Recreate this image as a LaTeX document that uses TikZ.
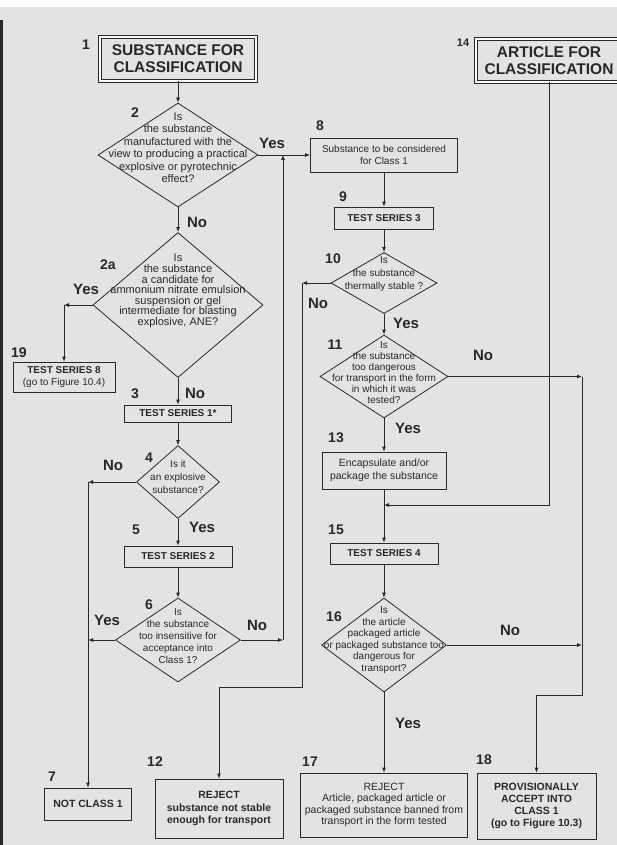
\documentclass[tikz,border=0pt]{standalone}
\usepackage{fontspec}
\setmainfont{Liberation Sans}
\usetikzlibrary{arrows.meta,shapes.geometric,positioning}

\definecolor{paper}{RGB}{227,228,226}
\definecolor{ink}{RGB}{40,40,40}

\begin{document}
\begin{tikzpicture}[x=1pt,y=-1pt,line width=0.8pt,color=ink,
		box/.style={draw,rectangle,inner sep=0pt,align=center},
		dbox/.style={box,double=white!80!paper,double distance=2pt,font=\bfseries\fontsize{15.5}{17}\selectfont},
		tbox/.style={box,font=\bfseries\fontsize{10}{12}\selectfont},
		dia/.style={draw,diamond,inner sep=0pt},
		dtxt/.style={align=center,inner sep=0pt},
		num/.style={font=\bfseries\fontsize{14}{14}\selectfont},
		yn/.style={font=\bfseries\fontsize{15}{15}\selectfont},
		arr/.style={-{Latex[length=5pt,width=4pt]}}]
	\useasboundingbox (0,0) rectangle (617,845);
	\fill[paper] (0,0) rectangle (617,845);
	\fill[white] (0,0) rectangle (617,7);
	\fill[ink] (0,20) rectangle (3,845);

	% start boxes
	\node[dbox,minimum width=156pt,minimum height=44pt] (sub) at (178,59) {SUBSTANCE FOR\\CLASSIFICATION};
	\node[dbox,minimum width=146pt,minimum height=43pt] (art) at (549,60.5) {ARTICLE FOR\\CLASSIFICATION};

	% left column
	\node[dia,minimum width=160pt,minimum height=104pt] (d2) at (178,155) {};
	\node[dtxt,font=\fontsize{11}{12.5}\selectfont] (t2) at ([yshift=7pt]d2.center) {Is\\the substance\\manufactured with the\\view to producing a practical\\explosive or pyrotechnic\\effect?};
	\node[dia,minimum width=170pt,minimum height=145pt] (d2a) at (178,305) {};
	\node[dtxt,font=\fontsize{11}{10.6}\selectfont] (t2a) at ([yshift=14pt]d2a.center) {Is\\the substance\\a candidate for\\ammonium nitrate emulsion\\suspension or gel\\intermediate for blasting\\explosive, ANE?};
	\node[box,minimum width=102pt,minimum height=30pt,font=\fontsize{10}{12}\selectfont] (ts8) at (64,377) {\textbf{TEST SERIES 8}\\(go to Figure 10.4)};
	\node[tbox,minimum width=107pt,minimum height=17pt] (ts1) at (178,413.5) {TEST SERIES 1*};
	\node[dia,minimum width=83pt,minimum height=73pt] (d4) at (178,482) {};
	\node[dtxt,font=\fontsize{10}{13}\selectfont] (t4) at ([yshift=5pt]d4.center) {Is it\\an explosive\\substance?};
	\node[tbox,minimum width=108pt,minimum height=21pt] (ts2) at (178,556.5) {TEST SERIES 2};
	\node[dia,minimum width=125pt,minimum height=84pt] (d6) at (178,640) {};
	\node[dtxt,font=\fontsize{10}{12}\selectfont] (t6) at ([yshift=4pt]d6.center) {Is\\the substance\\too insensitive for\\acceptance into\\Class 1?};
	\node[tbox,minimum width=87pt,minimum height=32pt,font=\bfseries\fontsize{10.5}{12}\selectfont] (nc1) at (88,804) {NOT CLASS 1};
	\node[tbox,minimum width=128pt,minimum height=59pt,font=\bfseries\fontsize{10.5}{12.5}\selectfont] (rj1) at (219,808.5) {REJECT\\substance not stable\\enough for transport};

	% right column
	\node[box,minimum width=147pt,minimum height=34pt,font=\fontsize{10}{12}\selectfont] (cons) at (384,155) {Substance to be considered\\for Class 1};
	\node[tbox,minimum width=99pt,minimum height=22pt] (ts3) at (384,218) {TEST SERIES 3};
	\node[dia,minimum width=106pt,minimum height=61pt] (d10) at (384,283) {};
	\node[dtxt,font=\fontsize{10}{13}\selectfont] (t10) at ([yshift=9pt]d10.center) {Is\\the substance\\thermally stable ?};
	\node[dia,minimum width=128pt,minimum height=83pt] (d11) at (384,376.5) {};
	\node[dtxt,font=\fontsize{10}{11}\selectfont] (t11) at ([yshift=4pt]d11.center) {Is\\the substance\\too dangerous\\for transport in the form\\in which it was\\tested?};
	\node[box,minimum width=124pt,minimum height=37pt,font=\fontsize{10.5}{12.5}\selectfont] (enc) at (384,470.5) {Encapsulate and/or\\package the substance};
	\node[tbox,minimum width=108pt,minimum height=21pt] (ts4) at (384,553.5) {TEST SERIES 4};
	\node[dia,minimum width=125pt,minimum height=94pt] (d16) at (384,645) {};
	\node[dtxt,font=\fontsize{10}{11.5}\selectfont] (t16) at ([yshift=5pt]d16.center) {Is\\the article\\packaged article\\or packaged substance too\\dangerous for\\transport?};
	\node[box,minimum width=167pt,minimum height=64pt,font=\fontsize{10.5}{11.5}\selectfont] (rj2) at (384,805) {REJECT\\Article, packaged article or\\packaged substance banned from\\transport in the form tested};
	\node[tbox,minimum width=119pt,minimum height=66pt,font=\bfseries\fontsize{10.5}{12}\selectfont] (acc) at (536.5,806) {PROVISIONALLY\\ACCEPT INTO\\CLASS 1\\(go to Figure 10.3)};

	% bends
	\coordinate (k19) at (d2a.west -| ts8.north);
	\coordinate (k7a) at (d4.west -| nc1.north);
	\coordinate (k7b) at (d6.west -| nc1.north);
	\coordinate (k6) at (283,640);
	\coordinate (k8) at (k6 |- d2.east);
	\coordinate (k10) at (302,283);
	\coordinate (k12) at (302,687);
	\coordinate (k11) at (582,376.5);
	\coordinate (k18) at (582,695);
	\coordinate (k16) at (k11 |- d16.east);
	\coordinate (k14) at (549,505);
	\coordinate (k13) at (enc.south |- k14);

	% connectors
	\draw[arr] (sub) -- (d2);
	\draw[arr] (d2.east) -- (cons.west);
	\draw[arr] (d2) -- (d2a);
	\draw[arr] (d2a.west) -- (k19);
	\draw[arr] (k19) -- (ts8.north);
	\draw[arr] (d2a) -- (ts1);
	\draw[arr] (ts1) -- (d4);
	\draw[arr] (d4.west) -- (k7a);
	\draw[arr] (k7a) -- (nc1.north);
	\draw[arr] (d4) -- (ts2);
	\draw[arr] (ts2) -- (d6);
	\draw[arr] (d6.west) -- (k7b);
	\draw[arr] (d6.east) -- (k6);
	\draw[arr] (k6) -- (k8);
	\draw[arr] (cons) -- (ts3);
	\draw[arr] (ts3) -- (d10);
	\draw[arr] (d10.west) -- (k10);
	\draw[arr] (k10) -- (k12) -| (rj1.north);
	\draw[arr] (d10) -- (d11);
	\draw[arr] (d11.east) -- (k11);
	\draw[arr] (k11) -- (k18) -| (acc.north);
	\draw[arr] (d11) -- (enc);
	\draw[arr] (art.south) |- (k13);
	\draw[arr] (enc) -- (ts4);
	\draw[arr] (ts4) -- (d16);
	\draw[arr] (d16.east) -- (k16);
	\draw[arr] (d16) -- (rj2);

	% numbers and answers
	\foreach \t/\x/\y in {1/86/45,2/135/113,2a/108/265,19/19/353,3/135/394,4/149/458,5/136/530,6/149/605,7/52/777,12/155/762,8/320/126,9/343/197,10/333/259,11/335/345,13/336/438,15/336/530,16/334/617,17/310/762,18/484/760}
		\node[num] (n\t) at (\x,\y) {\t};
	\node[num,font=\bfseries\fontsize{11}{11}\selectfont] (n14) at (463,43) {14};
	\foreach \t/\x/\y [count=\i] in {Yes/272/143,No/197/222,Yes/86/289,No/195/393,No/113/465,Yes/202/527,Yes/107/620,No/257/625,No/318/303,Yes/406/323,No/483/355,Yes/408/428,No/510/630,Yes/408/723}
		\node[yn] (a\i) at (\x,\y) {\t};
\end{tikzpicture}
\end{document}
